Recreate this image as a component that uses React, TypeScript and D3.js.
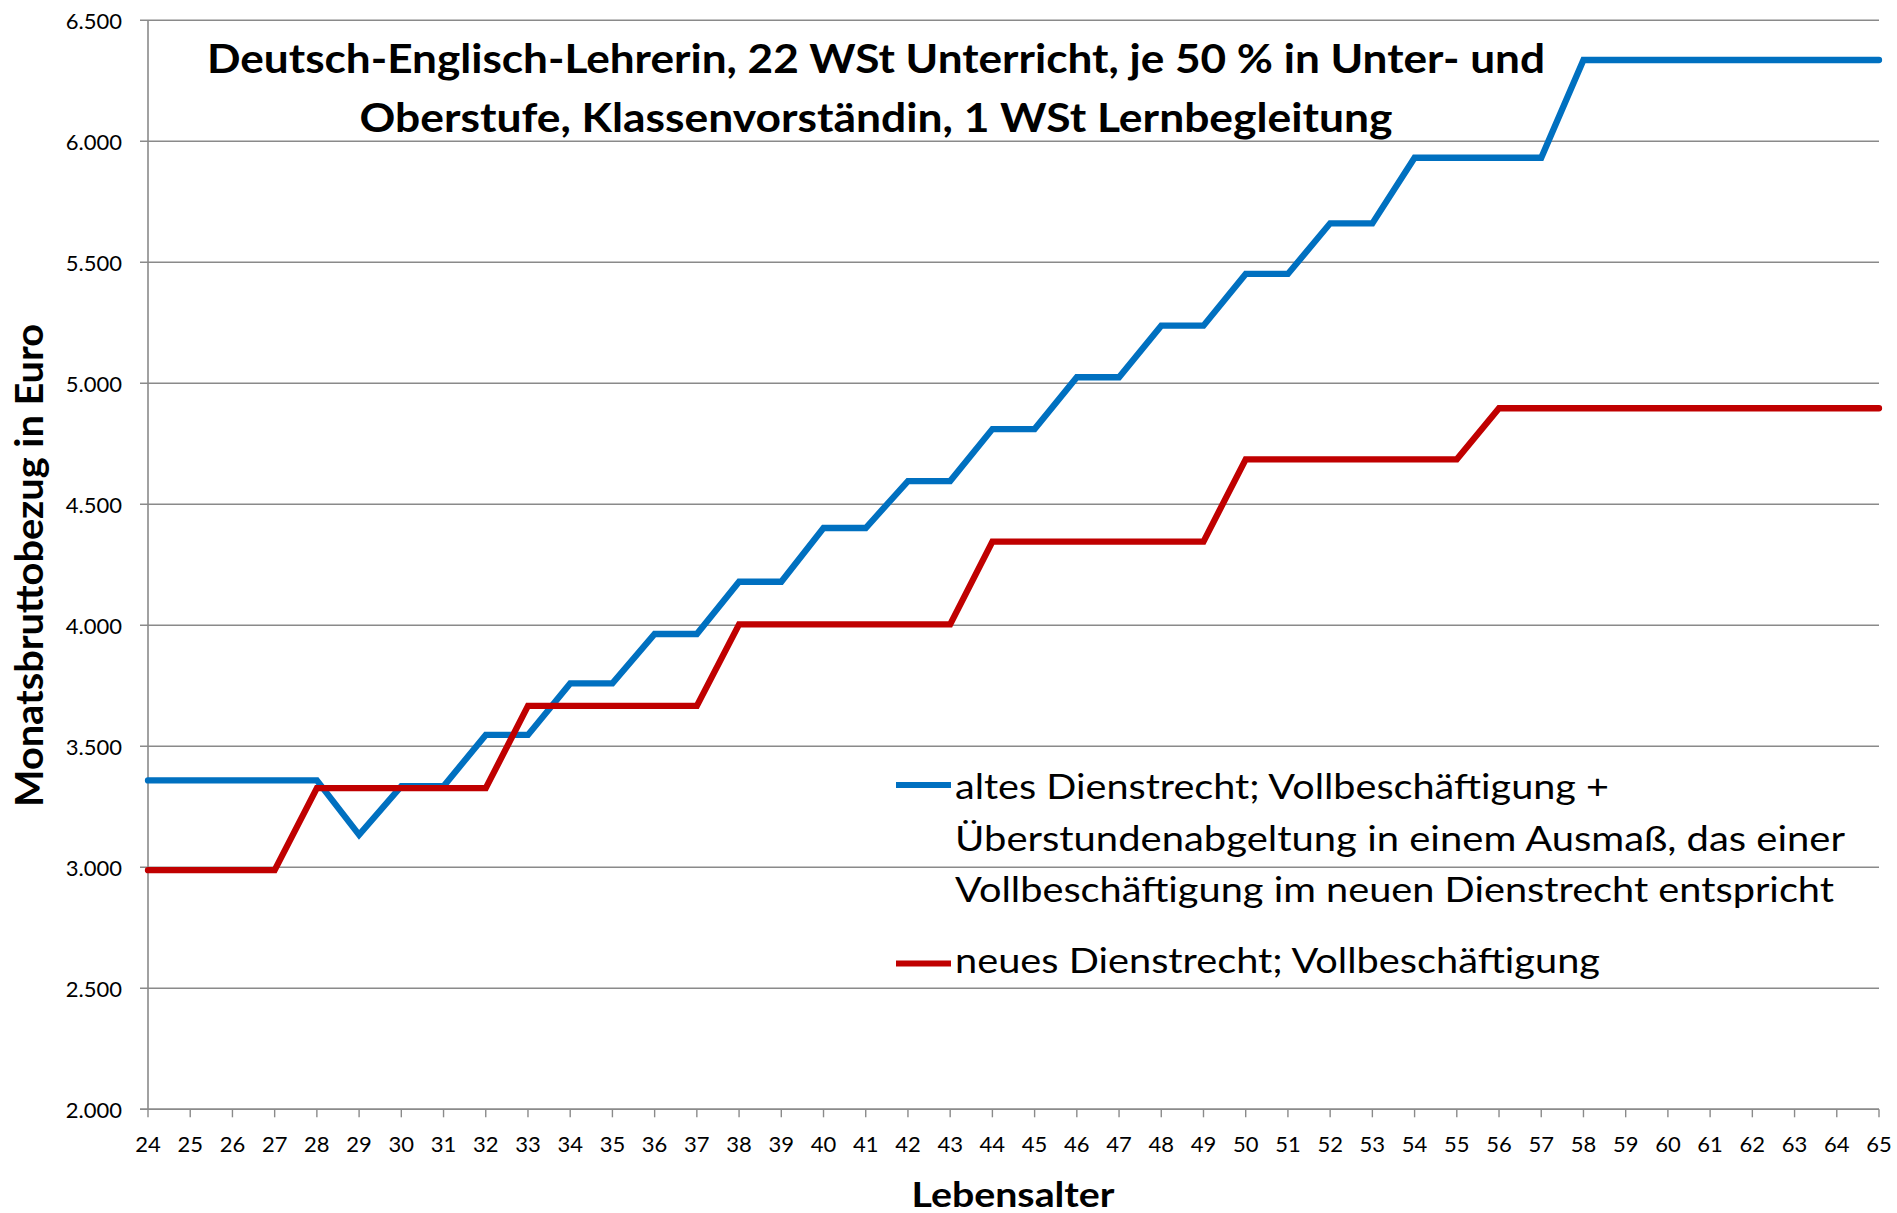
import React from "react";
import * as d3 from "d3";

const ages = [24, 25, 26, 27, 28, 29, 30, 31, 32, 33, 34, 35, 36, 37, 38, 39, 40, 41, 42, 43, 44, 45, 46, 47, 48, 49, 50, 51, 52, 53, 54, 55, 56, 57, 58, 59, 60, 61, 62, 63, 64, 65];

const altesDienstrecht = [
  3359, 3359, 3359, 3359, 3359, 3134, 3335, 3335, 3547, 3547,
  3760, 3760, 3964, 3964, 4180, 4180, 4402, 4402, 4596, 4596,
  4811, 4811, 5025, 5025, 5238, 5238, 5452, 5452, 5661, 5661,
  5932, 5932, 5932, 5932, 6336, 6336, 6336, 6336, 6336, 6336,
  6336, 6336,
];

const neuesDienstrecht = [
  2988, 2988, 2988, 2988, 3327, 3327, 3327, 3327, 3327, 3667,
  3667, 3667, 3667, 3667, 4004, 4004, 4004, 4004, 4004, 4004,
  4346, 4346, 4346, 4346, 4346, 4346, 4686, 4686, 4686, 4686,
  4686, 4686, 4897, 4897, 4897, 4897, 4897, 4897, 4897, 4897,
  4897, 4897,
];

const yTicks = [2000, 2500, 3000, 3500, 4000, 4500, 5000, 5500, 6000, 6500];

const titleLines = [
  "Deutsch-Englisch-Lehrerin, 22 WSt Unterricht, je 50 % in Unter- und",
  "Oberstufe, Klassenvorständin, 1 WSt Lernbegleitung",
];

const legendBlueLines = [
  "altes Dienstrecht; Vollbeschäftigung +",
  "Überstundenabgeltung in einem Ausmaß, das einer",
  "Vollbeschäftigung im neuen Dienstrecht entspricht",
];
const legendRedLines = ["neues Dienstrecht; Vollbeschäftigung"];

const yAxisTitle = "Monatsbruttobezug in Euro";
const xAxisTitle = "Lebensalter";

const BLUE = "#0070C0";
const RED = "#C00000";
const GRID = "#8a8a8a";
const FONT = "Lato, 'Open Sans', sans-serif";

const W = 1897;
const H = 1213;
const left = 148;
const right = 1879;
const top = 20.3;
const bottom = 1109.3;

const de = d3.formatLocale({ decimal: ",", thousands: ".", grouping: [3], currency: ["", "€"] });
const fmt = de.format(",.0f");

export default function App() {
  const x = d3.scaleLinear().domain([ages[0], ages[ages.length - 1]]).range([left, right]);
  const y = d3.scaleLinear().domain([2000, 6500]).range([bottom, top]);

  const line = d3
    .line<number>()
    .x((_, i) => x(ages[i]))
    .y((d) => y(d));

  return (
    <svg
      width={W}
      height={H}
      viewBox={`0 0 ${W} ${H}`}
      style={{ position: "absolute", left: 0, top: 0, display: "block", background: "#fff" }}
      fontFamily={FONT}
    >
      <rect x={0} y={0} width={W} height={H} fill="#fff" />
      {/* gridlines and y ticks */}
      {yTicks.map((t) => (
        <g key={t}>
          <line x1={left - 8} x2={right} y1={y(t)} y2={y(t)} stroke={GRID} strokeWidth={1.4} />
          <text
            x={122}
            y={y(t)}
            textAnchor="end"
            dominantBaseline="central"
            fontSize={22}
            fill="#000"
          >
            {fmt(t)}
          </text>
        </g>
      ))}
      {/* y axis */}
      <line x1={left} x2={left} y1={top} y2={bottom} stroke={GRID} strokeWidth={1.6} />
      {/* x axis ticks */}
      {ages.map((a) => (
        <g key={a}>
          <line x1={x(a)} x2={x(a)} y1={bottom} y2={bottom + 8} stroke={GRID} strokeWidth={1.4} />
          <text x={x(a)} y={1151.7} textAnchor="middle" fontSize={22} fill="#000">
            {a}
          </text>
        </g>
      ))}
      <line x1={left - 8} x2={right} y1={bottom} y2={bottom} stroke={GRID} strokeWidth={1.6} />

      {/* title */}
      {titleLines.map((t, i) => (
        <text
          key={i}
          x={876}
          y={i === 0 ? 73.3 : 131.5}
          textAnchor="middle"
          fontSize={40}
          fontWeight="bold"
          fill="#000"
          textLength={i === 0 ? 1338 : 1033}
          lengthAdjust="spacingAndGlyphs"
        >
          {t}
        </text>
      ))}

      {/* axis titles */}
      <text
        transform={`translate(42.7, 565.5) rotate(-90)`}
        textAnchor="middle"
        fontSize={39}
        fontWeight="bold"
        fill="#000"
        textLength={483}
        lengthAdjust="spacingAndGlyphs"
      >
        {yAxisTitle}
      </text>
      <text
        x={1013}
        y={1206.7}
        textAnchor="middle"
        fontSize={35}
        fontWeight="bold"
        fill="#000"
        textLength={203}
        lengthAdjust="spacingAndGlyphs"
      >
        {xAxisTitle}
      </text>

      {/* legend */}
      <line x1={896} x2={951} y1={785} y2={785} stroke={BLUE} strokeWidth={6} />
      {legendBlueLines.map((t, i) => (
        <text
          key={i}
          x={955}
          y={799.3 + i * 51.5}
          fontSize={35}
          fill="#000"
          textLength={[654, 890, 879][i]}
          lengthAdjust="spacingAndGlyphs"
        >
          {t}
        </text>
      ))}
      <line x1={896} x2={951} y1={963.5} y2={963.5} stroke={RED} strokeWidth={6} />
      {legendRedLines.map((t, i) => (
        <text
          key={i}
          x={955}
          y={972.7 + i * 51.5}
          fontSize={35}
          fill="#000"
          textLength={645}
          lengthAdjust="spacingAndGlyphs"
        >
          {t}
        </text>
      ))}

      {/* series */}
      <path
        d={line(altesDienstrecht) || ""}
        fill="none"
        stroke={BLUE}
        strokeWidth={6.3}
        strokeLinejoin="miter"
        strokeLinecap="round"
      />
      <path
        d={line(neuesDienstrecht) || ""}
        fill="none"
        stroke={RED}
        strokeWidth={6.3}
        strokeLinejoin="miter"
        strokeLinecap="round"
      />
    </svg>
  );
}
